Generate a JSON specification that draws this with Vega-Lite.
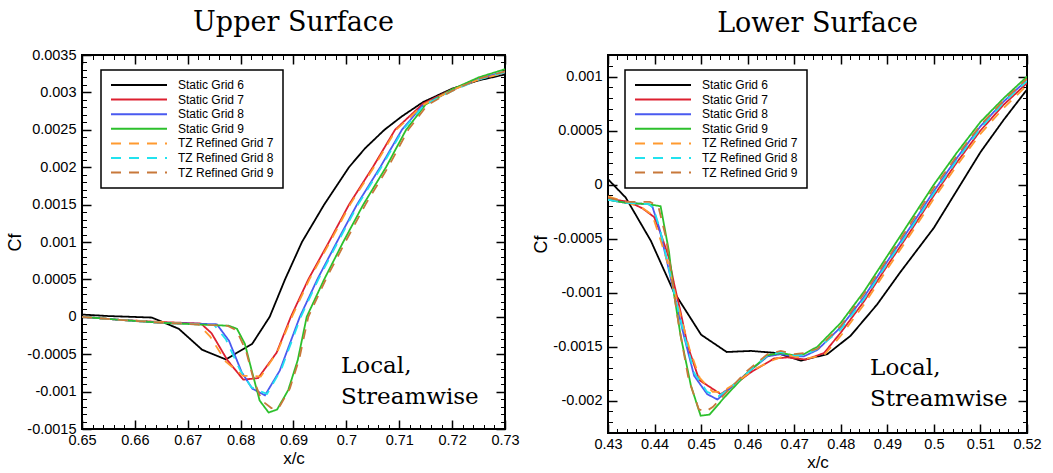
{
"$schema": "https://vega.github.io/schema/vega-lite/v6.json",
"background": "white",
"padding": {"left": 5, "top": 8, "right": 5, "bottom": 0},
"config": {
  "font": "Liberation Sans",
  "view": {"stroke": "black", "strokeWidth": 2},
  "axis": {"grid": false, "domain": false, "tickColor": "black", "labelColor": "black", "labelFontSize": 14.5, "labelFont": "Liberation Sans", "titleFont": "Liberation Sans", "titleFontWeight": "normal", "titleColor": "black", "labelOverlap": false, "labelFlush": false, "labelBound": false},
  "title": {"font": "DejaVu Serif", "fontSize": 27, "fontWeight": "normal", "color": "black", "anchor": "middle", "frame": "group"},
  "legend": {"symbolType": "stroke", "symbolSize": 3136, "symbolStrokeWidth": 2, "clipHeight": 12, "labelFontSize": 12, "labelFont": "Liberation Sans", "labelColor": "black", "labelOffset": 10, "rowPadding": 2.6, "padding": 9, "strokeColor": "black", "strokeWidth": 1.5, "fillColor": "white", "cornerRadius": 0, "labelLimit": 300}
},
"datasets": {
"upper": [
{"g":"Static Grid 6","x":0.65,"y":0.00003},{"g":"Static Grid 6","x":0.655,"y":0.00001},{"g":"Static Grid 6","x":0.6632,"y":-0.00001},{"g":"Static Grid 6","x":0.6683,"y":-0.00016},{"g":"Static Grid 6","x":0.6727,"y":-0.00044},{"g":"Static Grid 6","x":0.6772,"y":-0.00057},{"g":"Static Grid 6","x":0.6822,"y":-0.00036},{"g":"Static Grid 6","x":0.6855,"y":0.0},{"g":"Static Grid 6","x":0.6884,"y":0.0005},{"g":"Static Grid 6","x":0.6916,"y":0.001},{"g":"Static Grid 6","x":0.6958,"y":0.0015},{"g":"Static Grid 6","x":0.7005,"y":0.002},{"g":"Static Grid 6","x":0.7035,"y":0.00225},{"g":"Static Grid 6","x":0.7072,"y":0.0025},{"g":"Static Grid 6","x":0.7105,"y":0.00268},{"g":"Static Grid 6","x":0.7145,"y":0.00287},{"g":"Static Grid 6","x":0.72,"y":0.00305},{"g":"Static Grid 6","x":0.725,"y":0.00316},{"g":"Static Grid 6","x":0.73,"y":0.00324},
{"g":"Static Grid 7","x":0.65,"y":0},{"g":"Static Grid 7","x":0.657,"y":-0.00004},{"g":"Static Grid 7","x":0.665,"y":-0.00007},{"g":"Static Grid 7","x":0.6725,"y":-0.00009},{"g":"Static Grid 7","x":0.6745,"y":-0.00022},{"g":"Static Grid 7","x":0.6775,"y":-0.00058},{"g":"Static Grid 7","x":0.6805,"y":-0.00084},{"g":"Static Grid 7","x":0.6833,"y":-0.00082},{"g":"Static Grid 7","x":0.6868,"y":-0.00048},{"g":"Static Grid 7","x":0.6895,"y":0.0},{"g":"Static Grid 7","x":0.6928,"y":0.0005},{"g":"Static Grid 7","x":0.6967,"y":0.001},{"g":"Static Grid 7","x":0.7005,"y":0.0015},{"g":"Static Grid 7","x":0.705,"y":0.002},{"g":"Static Grid 7","x":0.7092,"y":0.0025},{"g":"Static Grid 7","x":0.7145,"y":0.00285},{"g":"Static Grid 7","x":0.72,"y":0.00304},{"g":"Static Grid 7","x":0.725,"y":0.00318},{"g":"Static Grid 7","x":0.73,"y":0.00327},
{"g":"Static Grid 8","x":0.65,"y":0},{"g":"Static Grid 8","x":0.657,"y":-0.00004},{"g":"Static Grid 8","x":0.665,"y":-0.00008},{"g":"Static Grid 8","x":0.6755,"y":-0.0001},{"g":"Static Grid 8","x":0.6778,"y":-0.00032},{"g":"Static Grid 8","x":0.6802,"y":-0.00074},{"g":"Static Grid 8","x":0.6822,"y":-0.00096},{"g":"Static Grid 8","x":0.6846,"y":-0.00105},{"g":"Static Grid 8","x":0.6874,"y":-0.00072},{"g":"Static Grid 8","x":0.6912,"y":0.0},{"g":"Static Grid 8","x":0.6945,"y":0.0005},{"g":"Static Grid 8","x":0.6982,"y":0.001},{"g":"Static Grid 8","x":0.702,"y":0.0015},{"g":"Static Grid 8","x":0.7064,"y":0.002},{"g":"Static Grid 8","x":0.7105,"y":0.0025},{"g":"Static Grid 8","x":0.7145,"y":0.00283},{"g":"Static Grid 8","x":0.72,"y":0.00303},{"g":"Static Grid 8","x":0.725,"y":0.00318},{"g":"Static Grid 8","x":0.73,"y":0.00328},
{"g":"Static Grid 9","x":0.65,"y":0},{"g":"Static Grid 9","x":0.657,"y":-0.00004},{"g":"Static Grid 9","x":0.665,"y":-0.00008},{"g":"Static Grid 9","x":0.6778,"y":-0.00012},{"g":"Static Grid 9","x":0.6793,"y":-0.00016},{"g":"Static Grid 9","x":0.6808,"y":-0.00036},{"g":"Static Grid 9","x":0.6821,"y":-0.00072},{"g":"Static Grid 9","x":0.6836,"y":-0.00112},{"g":"Static Grid 9","x":0.6853,"y":-0.00128},{"g":"Static Grid 9","x":0.6869,"y":-0.00124},{"g":"Static Grid 9","x":0.689,"y":-0.00098},{"g":"Static Grid 9","x":0.6908,"y":-0.00058},{"g":"Static Grid 9","x":0.6925,"y":0.0},{"g":"Static Grid 9","x":0.6958,"y":0.0005},{"g":"Static Grid 9","x":0.6994,"y":0.001},{"g":"Static Grid 9","x":0.7032,"y":0.0015},{"g":"Static Grid 9","x":0.7075,"y":0.002},{"g":"Static Grid 9","x":0.7113,"y":0.0025},{"g":"Static Grid 9","x":0.715,"y":0.00284},{"g":"Static Grid 9","x":0.72,"y":0.00304},{"g":"Static Grid 9","x":0.725,"y":0.0032},{"g":"Static Grid 9","x":0.73,"y":0.00331},
{"g":"TZ Refined Grid 7","x":0.65,"y":0},{"g":"TZ Refined Grid 7","x":0.657,"y":-0.00004},{"g":"TZ Refined Grid 7","x":0.665,"y":-0.00007},{"g":"TZ Refined Grid 7","x":0.672,"y":-0.0001},{"g":"TZ Refined Grid 7","x":0.6742,"y":-0.00026},{"g":"TZ Refined Grid 7","x":0.6772,"y":-0.0006},{"g":"TZ Refined Grid 7","x":0.6805,"y":-0.00079},{"g":"TZ Refined Grid 7","x":0.6822,"y":-0.00079},{"g":"TZ Refined Grid 7","x":0.6838,"y":-0.0008},{"g":"TZ Refined Grid 7","x":0.687,"y":-0.00046},{"g":"TZ Refined Grid 7","x":0.6897,"y":0.0},{"g":"TZ Refined Grid 7","x":0.693,"y":0.0005},{"g":"TZ Refined Grid 7","x":0.6969,"y":0.001},{"g":"TZ Refined Grid 7","x":0.7007,"y":0.0015},{"g":"TZ Refined Grid 7","x":0.7052,"y":0.002},{"g":"TZ Refined Grid 7","x":0.7094,"y":0.0025},{"g":"TZ Refined Grid 7","x":0.7147,"y":0.00284},{"g":"TZ Refined Grid 7","x":0.72,"y":0.00303},{"g":"TZ Refined Grid 7","x":0.725,"y":0.00317},{"g":"TZ Refined Grid 7","x":0.73,"y":0.00326},
{"g":"TZ Refined Grid 8","x":0.65,"y":0},{"g":"TZ Refined Grid 8","x":0.657,"y":-0.00004},{"g":"TZ Refined Grid 8","x":0.665,"y":-0.00008},{"g":"TZ Refined Grid 8","x":0.675,"y":-0.00011},{"g":"TZ Refined Grid 8","x":0.6772,"y":-0.0003},{"g":"TZ Refined Grid 8","x":0.6798,"y":-0.0007},{"g":"TZ Refined Grid 8","x":0.682,"y":-0.00094},{"g":"TZ Refined Grid 8","x":0.6835,"y":-0.00099},{"g":"TZ Refined Grid 8","x":0.685,"y":-0.00103},{"g":"TZ Refined Grid 8","x":0.6877,"y":-0.0007},{"g":"TZ Refined Grid 8","x":0.6914,"y":0.0},{"g":"TZ Refined Grid 8","x":0.6947,"y":0.0005},{"g":"TZ Refined Grid 8","x":0.6984,"y":0.001},{"g":"TZ Refined Grid 8","x":0.7022,"y":0.0015},{"g":"TZ Refined Grid 8","x":0.7066,"y":0.002},{"g":"TZ Refined Grid 8","x":0.7107,"y":0.0025},{"g":"TZ Refined Grid 8","x":0.7147,"y":0.00283},{"g":"TZ Refined Grid 8","x":0.72,"y":0.00302},{"g":"TZ Refined Grid 8","x":0.725,"y":0.00317},{"g":"TZ Refined Grid 8","x":0.73,"y":0.00327},
{"g":"TZ Refined Grid 9","x":0.65,"y":0},{"g":"TZ Refined Grid 9","x":0.657,"y":-0.00004},{"g":"TZ Refined Grid 9","x":0.665,"y":-0.00008},{"g":"TZ Refined Grid 9","x":0.6775,"y":-0.00012},{"g":"TZ Refined Grid 9","x":0.6792,"y":-0.00018},{"g":"TZ Refined Grid 9","x":0.681,"y":-0.00045},{"g":"TZ Refined Grid 9","x":0.6825,"y":-0.00085},{"g":"TZ Refined Grid 9","x":0.684,"y":-0.00112},{"g":"TZ Refined Grid 9","x":0.6858,"y":-0.00122},{"g":"TZ Refined Grid 9","x":0.6872,"y":-0.00122},{"g":"TZ Refined Grid 9","x":0.6893,"y":-0.00096},{"g":"TZ Refined Grid 9","x":0.6911,"y":-0.00056},{"g":"TZ Refined Grid 9","x":0.6928,"y":0.0},{"g":"TZ Refined Grid 9","x":0.6961,"y":0.0005},{"g":"TZ Refined Grid 9","x":0.6998,"y":0.001},{"g":"TZ Refined Grid 9","x":0.7036,"y":0.0015},{"g":"TZ Refined Grid 9","x":0.7079,"y":0.002},{"g":"TZ Refined Grid 9","x":0.7117,"y":0.0025},{"g":"TZ Refined Grid 9","x":0.7153,"y":0.00283},{"g":"TZ Refined Grid 9","x":0.72,"y":0.00302},{"g":"TZ Refined Grid 9","x":0.725,"y":0.00318},{"g":"TZ Refined Grid 9","x":0.73,"y":0.00328}
],
"lower": [
{"g":"Static Grid 6","x":0.43,"y":0.00005},{"g":"Static Grid 6","x":0.4338,"y":-0.00012},{"g":"Static Grid 6","x":0.4392,"y":-0.00052},{"g":"Static Grid 6","x":0.4441,"y":-0.00099},{"g":"Static Grid 6","x":0.45,"y":-0.00139},{"g":"Static Grid 6","x":0.4555,"y":-0.00155},{"g":"Static Grid 6","x":0.4607,"y":-0.00154},{"g":"Static Grid 6","x":0.4664,"y":-0.00156},{"g":"Static Grid 6","x":0.4714,"y":-0.00163},{"g":"Static Grid 6","x":0.4771,"y":-0.00157},{"g":"Static Grid 6","x":0.4821,"y":-0.0014},{"g":"Static Grid 6","x":0.4878,"y":-0.00111},{"g":"Static Grid 6","x":0.4928,"y":-0.00081},{"g":"Static Grid 6","x":0.5,"y":-0.0004},{"g":"Static Grid 6","x":0.505,"y":-0.00005},{"g":"Static Grid 6","x":0.51,"y":0.0003},{"g":"Static Grid 6","x":0.515,"y":0.0006},{"g":"Static Grid 6","x":0.52,"y":0.00088},
{"g":"Static Grid 7","x":0.43,"y":-0.00013},{"g":"Static Grid 7","x":0.4345,"y":-0.00016},{"g":"Static Grid 7","x":0.4374,"y":-0.00022},{"g":"Static Grid 7","x":0.4399,"y":-0.0003},{"g":"Static Grid 7","x":0.4413,"y":-0.00045},{"g":"Static Grid 7","x":0.4431,"y":-0.00068},{"g":"Static Grid 7","x":0.4441,"y":-0.0009},{"g":"Static Grid 7","x":0.4456,"y":-0.00118},{"g":"Static Grid 7","x":0.4471,"y":-0.00149},{"g":"Static Grid 7","x":0.4496,"y":-0.00181},{"g":"Static Grid 7","x":0.4542,"y":-0.00194},{"g":"Static Grid 7","x":0.4563,"y":-0.00188},{"g":"Static Grid 7","x":0.4606,"y":-0.00174},{"g":"Static Grid 7","x":0.4657,"y":-0.00161},{"g":"Static Grid 7","x":0.4686,"y":-0.0016},{"g":"Static Grid 7","x":0.4725,"y":-0.00162},{"g":"Static Grid 7","x":0.4764,"y":-0.00156},{"g":"Static Grid 7","x":0.48,"y":-0.00137},{"g":"Static Grid 7","x":0.485,"y":-0.00108},{"g":"Static Grid 7","x":0.49,"y":-0.00075},{"g":"Static Grid 7","x":0.495,"y":-0.00043},{"g":"Static Grid 7","x":0.5,"y":-0.0001},{"g":"Static Grid 7","x":0.505,"y":0.00021},{"g":"Static Grid 7","x":0.51,"y":0.0005},{"g":"Static Grid 7","x":0.515,"y":0.00074},{"g":"Static Grid 7","x":0.52,"y":0.00094},
{"g":"Static Grid 8","x":0.43,"y":-0.00014},{"g":"Static Grid 8","x":0.434,"y":-0.00017},{"g":"Static Grid 8","x":0.4385,"y":-0.00018},{"g":"Static Grid 8","x":0.4395,"y":-0.0002},{"g":"Static Grid 8","x":0.441,"y":-0.0004},{"g":"Static Grid 8","x":0.4425,"y":-0.00068},{"g":"Static Grid 8","x":0.4441,"y":-0.00099},{"g":"Static Grid 8","x":0.4463,"y":-0.0014},{"g":"Static Grid 8","x":0.4485,"y":-0.00177},{"g":"Static Grid 8","x":0.4513,"y":-0.00194},{"g":"Static Grid 8","x":0.4535,"y":-0.00199},{"g":"Static Grid 8","x":0.4556,"y":-0.00191},{"g":"Static Grid 8","x":0.46,"y":-0.00174},{"g":"Static Grid 8","x":0.4643,"y":-0.00159},{"g":"Static Grid 8","x":0.4671,"y":-0.00157},{"g":"Static Grid 8","x":0.47,"y":-0.00159},{"g":"Static Grid 8","x":0.4721,"y":-0.00159},{"g":"Static Grid 8","x":0.475,"y":-0.00153},{"g":"Static Grid 8","x":0.48,"y":-0.00132},{"g":"Static Grid 8","x":0.485,"y":-0.00104},{"g":"Static Grid 8","x":0.49,"y":-0.00071},{"g":"Static Grid 8","x":0.495,"y":-0.00039},{"g":"Static Grid 8","x":0.5,"y":-0.00006},{"g":"Static Grid 8","x":0.505,"y":0.00025},{"g":"Static Grid 8","x":0.51,"y":0.00054},{"g":"Static Grid 8","x":0.515,"y":0.00077},{"g":"Static Grid 8","x":0.52,"y":0.00097},
{"g":"Static Grid 9","x":0.43,"y":-0.00014},{"g":"Static Grid 9","x":0.434,"y":-0.00017},{"g":"Static Grid 9","x":0.4385,"y":-0.00018},{"g":"Static Grid 9","x":0.4413,"y":-0.0002},{"g":"Static Grid 9","x":0.4431,"y":-0.00062},{"g":"Static Grid 9","x":0.4441,"y":-0.00099},{"g":"Static Grid 9","x":0.4456,"y":-0.0014},{"g":"Static Grid 9","x":0.4478,"y":-0.00186},{"g":"Static Grid 9","x":0.4499,"y":-0.00214},{"g":"Static Grid 9","x":0.4518,"y":-0.00213},{"g":"Static Grid 9","x":0.455,"y":-0.00197},{"g":"Static Grid 9","x":0.46,"y":-0.00174},{"g":"Static Grid 9","x":0.4643,"y":-0.00158},{"g":"Static Grid 9","x":0.4671,"y":-0.00156},{"g":"Static Grid 9","x":0.47,"y":-0.00158},{"g":"Static Grid 9","x":0.4721,"y":-0.00157},{"g":"Static Grid 9","x":0.475,"y":-0.0015},{"g":"Static Grid 9","x":0.48,"y":-0.00128},{"g":"Static Grid 9","x":0.485,"y":-0.00099},{"g":"Static Grid 9","x":0.49,"y":-0.00066},{"g":"Static Grid 9","x":0.495,"y":-0.00033},{"g":"Static Grid 9","x":0.5,"y":0.0},{"g":"Static Grid 9","x":0.505,"y":0.0003},{"g":"Static Grid 9","x":0.51,"y":0.00058},{"g":"Static Grid 9","x":0.515,"y":0.0008},{"g":"Static Grid 9","x":0.52,"y":0.001},
{"g":"TZ Refined Grid 7","x":0.43,"y":-0.00011},{"g":"TZ Refined Grid 7","x":0.434,"y":-0.00016},{"g":"TZ Refined Grid 7","x":0.4375,"y":-0.00022},{"g":"TZ Refined Grid 7","x":0.4395,"y":-0.00028},{"g":"TZ Refined Grid 7","x":0.4412,"y":-0.0005},{"g":"TZ Refined Grid 7","x":0.443,"y":-0.00075},{"g":"TZ Refined Grid 7","x":0.4441,"y":-0.00095},{"g":"TZ Refined Grid 7","x":0.4458,"y":-0.00125},{"g":"TZ Refined Grid 7","x":0.4475,"y":-0.00152},{"g":"TZ Refined Grid 7","x":0.4497,"y":-0.00179},{"g":"TZ Refined Grid 7","x":0.4525,"y":-0.00192},{"g":"TZ Refined Grid 7","x":0.4545,"y":-0.00192},{"g":"TZ Refined Grid 7","x":0.457,"y":-0.00185},{"g":"TZ Refined Grid 7","x":0.461,"y":-0.00172},{"g":"TZ Refined Grid 7","x":0.4657,"y":-0.00162},{"g":"TZ Refined Grid 7","x":0.4686,"y":-0.00158},{"g":"TZ Refined Grid 7","x":0.4725,"y":-0.00161},{"g":"TZ Refined Grid 7","x":0.4764,"y":-0.00158},{"g":"TZ Refined Grid 7","x":0.48,"y":-0.0014},{"g":"TZ Refined Grid 7","x":0.485,"y":-0.00111},{"g":"TZ Refined Grid 7","x":0.49,"y":-0.00078},{"g":"TZ Refined Grid 7","x":0.495,"y":-0.00046},{"g":"TZ Refined Grid 7","x":0.5,"y":-0.00013},{"g":"TZ Refined Grid 7","x":0.505,"y":0.00018},{"g":"TZ Refined Grid 7","x":0.51,"y":0.00047},{"g":"TZ Refined Grid 7","x":0.515,"y":0.00071},{"g":"TZ Refined Grid 7","x":0.52,"y":0.00092},
{"g":"TZ Refined Grid 8","x":0.43,"y":-0.00014},{"g":"TZ Refined Grid 8","x":0.434,"y":-0.00017},{"g":"TZ Refined Grid 8","x":0.4388,"y":-0.00018},{"g":"TZ Refined Grid 8","x":0.4398,"y":-0.00022},{"g":"TZ Refined Grid 8","x":0.4412,"y":-0.00042},{"g":"TZ Refined Grid 8","x":0.4427,"y":-0.0007},{"g":"TZ Refined Grid 8","x":0.4442,"y":-0.001},{"g":"TZ Refined Grid 8","x":0.4464,"y":-0.0014},{"g":"TZ Refined Grid 8","x":0.4486,"y":-0.00175},{"g":"TZ Refined Grid 8","x":0.4513,"y":-0.00192},{"g":"TZ Refined Grid 8","x":0.4537,"y":-0.00196},{"g":"TZ Refined Grid 8","x":0.4558,"y":-0.0019},{"g":"TZ Refined Grid 8","x":0.46,"y":-0.00174},{"g":"TZ Refined Grid 8","x":0.4643,"y":-0.00158},{"g":"TZ Refined Grid 8","x":0.4671,"y":-0.00155},{"g":"TZ Refined Grid 8","x":0.47,"y":-0.00158},{"g":"TZ Refined Grid 8","x":0.4721,"y":-0.00158},{"g":"TZ Refined Grid 8","x":0.475,"y":-0.00152},{"g":"TZ Refined Grid 8","x":0.48,"y":-0.00134},{"g":"TZ Refined Grid 8","x":0.485,"y":-0.00106},{"g":"TZ Refined Grid 8","x":0.49,"y":-0.00073},{"g":"TZ Refined Grid 8","x":0.495,"y":-0.00041},{"g":"TZ Refined Grid 8","x":0.5,"y":-0.00008},{"g":"TZ Refined Grid 8","x":0.505,"y":0.00023},{"g":"TZ Refined Grid 8","x":0.51,"y":0.00052},{"g":"TZ Refined Grid 8","x":0.515,"y":0.00076},{"g":"TZ Refined Grid 8","x":0.52,"y":0.00096},
{"g":"TZ Refined Grid 9","x":0.43,"y":-0.00012},{"g":"TZ Refined Grid 9","x":0.434,"y":-0.00016},{"g":"TZ Refined Grid 9","x":0.439,"y":-0.00016},{"g":"TZ Refined Grid 9","x":0.4408,"y":-0.0002},{"g":"TZ Refined Grid 9","x":0.4425,"y":-0.0005},{"g":"TZ Refined Grid 9","x":0.4438,"y":-0.0009},{"g":"TZ Refined Grid 9","x":0.4452,"y":-0.0013},{"g":"TZ Refined Grid 9","x":0.4473,"y":-0.0018},{"g":"TZ Refined Grid 9","x":0.4495,"y":-0.00208},{"g":"TZ Refined Grid 9","x":0.451,"y":-0.0021},{"g":"TZ Refined Grid 9","x":0.4525,"y":-0.00206},{"g":"TZ Refined Grid 9","x":0.4555,"y":-0.00192},{"g":"TZ Refined Grid 9","x":0.46,"y":-0.00172},{"g":"TZ Refined Grid 9","x":0.4643,"y":-0.00157},{"g":"TZ Refined Grid 9","x":0.4671,"y":-0.00154},{"g":"TZ Refined Grid 9","x":0.47,"y":-0.00157},{"g":"TZ Refined Grid 9","x":0.4721,"y":-0.00156},{"g":"TZ Refined Grid 9","x":0.475,"y":-0.00152},{"g":"TZ Refined Grid 9","x":0.48,"y":-0.00131},{"g":"TZ Refined Grid 9","x":0.485,"y":-0.00101},{"g":"TZ Refined Grid 9","x":0.49,"y":-0.00069},{"g":"TZ Refined Grid 9","x":0.495,"y":-0.00036},{"g":"TZ Refined Grid 9","x":0.5,"y":-0.00003},{"g":"TZ Refined Grid 9","x":0.505,"y":0.00027},{"g":"TZ Refined Grid 9","x":0.51,"y":0.00055},{"g":"TZ Refined Grid 9","x":0.515,"y":0.00078},{"g":"TZ Refined Grid 9","x":0.52,"y":0.00098}
]
},
"spacing": 10,
"resolve": {"scale": {"color": "independent", "strokeDash": "independent"}},
"hconcat": [
{
  "width": 423, "height": 374,
  "title": {"text": "Upper Surface", "offset": 10},
  "resolve": {"axis": {"x": "independent", "y": "independent"}},
  "layer": [
    {
      "data": {"name": "upper"},
      "mark": {"type": "line", "strokeWidth": 1.8, "clip": true},
      "encoding": {
        "x": {"field": "x", "type": "quantitative", "scale": {"domain": [0.65, 0.73], "nice": false, "zero": false},
          "axis": {"orient": "bottom", "title": "x/c", "titleFontSize": 17, "titlePadding": -1, "labelPadding": 13,
            "values": [0.65,0.652,0.654,0.656,0.658,0.66,0.662,0.664,0.666,0.668,0.67,0.672,0.674,0.676,0.678,0.68,0.682,0.684,0.686,0.688,0.69,0.692,0.694,0.696,0.698,0.7,0.702,0.704,0.706,0.708,0.71,0.712,0.714,0.716,0.718,0.72,0.722,0.724,0.726,0.728,0.73],
            "labelExpr": "abs(datum.value*100 - round(datum.value*100)) < 0.001 ? '' + datum.value : ''",
            "tickSize": {"condition": {"test": "abs(datum.value*100 - round(datum.value*100)) < 0.001", "value": -9}, "value": -4.5},
            "tickWidth": {"condition": {"test": "abs(datum.value*100 - round(datum.value*100)) < 0.001", "value": 1.5}, "value": 1}}},
        "y": {"field": "y", "type": "quantitative", "scale": {"domain": [-0.0015, 0.0035], "nice": false, "zero": false},
          "axis": {"orient": "left", "title": "Cf", "titleFontSize": 18, "titlePadding": 2, "labelPadding": 15,
            "values": [-0.0015,-0.0014,-0.0013,-0.0012,-0.0011,-0.001,-0.0009,-0.0008,-0.0007,-0.0006,-0.0005,-0.0004,-0.0003,-0.0002,-0.0001,0,0.0001,0.0002,0.0003,0.0004,0.0005,0.0006,0.0007,0.0008,0.0009,0.001,0.0011,0.0012,0.0013,0.0014,0.0015,0.0016,0.0017,0.0018,0.0019,0.002,0.0021,0.0022,0.0023,0.0024,0.0025,0.0026,0.0027,0.0028,0.0029,0.003,0.0031,0.0032,0.0033,0.0034,0.0035],
            "labelExpr": "abs(datum.value*2000 - round(datum.value*2000)) < 0.001 ? '' + datum.value : ''",
            "tickSize": {"condition": {"test": "abs(datum.value*2000 - round(datum.value*2000)) < 0.001", "value": -9}, "value": -4.5},
            "tickWidth": {"condition": {"test": "abs(datum.value*2000 - round(datum.value*2000)) < 0.001", "value": 1.5}, "value": 1}}},
        "color": {"field": "g", "type": "nominal",
          "scale": {"domain": ["Static Grid 6","Static Grid 7","Static Grid 8","Static Grid 9","TZ Refined Grid 7","TZ Refined Grid 8","TZ Refined Grid 9"], "range": ["#000000","#dd2030","#4a5af0","#2cc02c","#ff9a30","#22e2ee","#c8783a"]},
          "legend": {"title": null, "orient": "none", "legendX": 19, "legendY": 15}},
        "strokeDash": {"field": "g", "type": "nominal",
          "scale": {"domain": ["Static Grid 6","Static Grid 7","Static Grid 8","Static Grid 9","TZ Refined Grid 7","TZ Refined Grid 8","TZ Refined Grid 9"], "range": [[1,0],[1,0],[1,0],[1,0],[10,8],[10,8],[10,8]]},
          "legend": {"title": null, "orient": "none", "legendX": 19, "legendY": 15}}
      }
    },
    {
      "data": {"values": [{}]},
      "mark": {"type": "text", "font": "DejaVu Serif", "fontSize": 23, "align": "left", "baseline": "alphabetic", "lineHeight": 31, "color": "black"},
      "encoding": {
        "x": {"datum": 0.699, "type": "quantitative",
          "axis": {"orient": "top", "title": null, "labels": false,
            "values": [0.65,0.652,0.654,0.656,0.658,0.66,0.662,0.664,0.666,0.668,0.67,0.672,0.674,0.676,0.678,0.68,0.682,0.684,0.686,0.688,0.69,0.692,0.694,0.696,0.698,0.7,0.702,0.704,0.706,0.708,0.71,0.712,0.714,0.716,0.718,0.72,0.722,0.724,0.726,0.728,0.73],
            "tickSize": {"condition": {"test": "abs(datum.value*100 - round(datum.value*100)) < 0.001", "value": -9}, "value": -4.5},
            "tickWidth": {"condition": {"test": "abs(datum.value*100 - round(datum.value*100)) < 0.001", "value": 1.5}, "value": 1}}},
        "y": {"datum": -0.000749, "type": "quantitative",
          "axis": {"orient": "right", "title": null, "labels": false,
            "values": [-0.0015,-0.0014,-0.0013,-0.0012,-0.0011,-0.001,-0.0009,-0.0008,-0.0007,-0.0006,-0.0005,-0.0004,-0.0003,-0.0002,-0.0001,0,0.0001,0.0002,0.0003,0.0004,0.0005,0.0006,0.0007,0.0008,0.0009,0.001,0.0011,0.0012,0.0013,0.0014,0.0015,0.0016,0.0017,0.0018,0.0019,0.002,0.0021,0.0022,0.0023,0.0024,0.0025,0.0026,0.0027,0.0028,0.0029,0.003,0.0031,0.0032,0.0033,0.0034,0.0035],
            "tickSize": {"condition": {"test": "abs(datum.value*2000 - round(datum.value*2000)) < 0.001", "value": -9}, "value": -4.5},
            "tickWidth": {"condition": {"test": "abs(datum.value*2000 - round(datum.value*2000)) < 0.001", "value": 1.5}, "value": 1}}},
        "text": {"value": ["Local,", "Streamwise"]}
      }
    }
  ]
},
{
  "width": 419, "height": 378,
  "title": {"text": "Lower Surface", "offset": 9},
  "resolve": {"axis": {"x": "independent", "y": "independent"}},
  "layer": [
    {
      "data": {"name": "lower"},
      "mark": {"type": "line", "strokeWidth": 1.8, "clip": true},
      "encoding": {
        "x": {"field": "x", "type": "quantitative", "scale": {"domain": [0.43, 0.52], "nice": false, "zero": false},
          "axis": {"orient": "bottom", "title": "x/c", "titleFontSize": 17, "titlePadding": -1, "labelPadding": 13,
            "values": [0.43,0.432,0.434,0.436,0.438,0.44,0.442,0.444,0.446,0.448,0.45,0.452,0.454,0.456,0.458,0.46,0.462,0.464,0.466,0.468,0.47,0.472,0.474,0.476,0.478,0.48,0.482,0.484,0.486,0.488,0.49,0.492,0.494,0.496,0.498,0.5,0.502,0.504,0.506,0.508,0.51,0.512,0.514,0.516,0.518,0.52],
            "labelExpr": "abs(datum.value*100 - round(datum.value*100)) < 0.001 ? '' + datum.value : ''",
            "tickSize": {"condition": {"test": "abs(datum.value*100 - round(datum.value*100)) < 0.001", "value": -9}, "value": -4.5},
            "tickWidth": {"condition": {"test": "abs(datum.value*100 - round(datum.value*100)) < 0.001", "value": 1.5}, "value": 1}}},
        "y": {"field": "y", "type": "quantitative", "scale": {"domain": [-0.0023, 0.0012], "nice": false, "zero": false},
          "axis": {"orient": "left", "title": "Cf", "titleFontSize": 18, "titlePadding": 2, "labelPadding": 15,
            "values": [-0.0023,-0.0022,-0.0021,-0.002,-0.0019,-0.0018,-0.0017,-0.0016,-0.0015,-0.0014,-0.0013,-0.0012,-0.0011,-0.001,-0.0009,-0.0008,-0.0007,-0.0006,-0.0005,-0.0004,-0.0003,-0.0002,-0.0001,0,0.0001,0.0002,0.0003,0.0004,0.0005,0.0006,0.0007,0.0008,0.0009,0.001,0.0011,0.0012],
            "labelExpr": "abs(datum.value*2000 - round(datum.value*2000)) < 0.001 ? '' + datum.value : ''",
            "tickSize": {"condition": {"test": "abs(datum.value*2000 - round(datum.value*2000)) < 0.001", "value": -9}, "value": -4.5},
            "tickWidth": {"condition": {"test": "abs(datum.value*2000 - round(datum.value*2000)) < 0.001", "value": 1.5}, "value": 1}}},
        "color": {"field": "g", "type": "nominal",
          "scale": {"domain": ["Static Grid 6","Static Grid 7","Static Grid 8","Static Grid 9","TZ Refined Grid 7","TZ Refined Grid 8","TZ Refined Grid 9"], "range": ["#000000","#dd2030","#4a5af0","#2cc02c","#ff9a30","#22e2ee","#c8783a"]},
          "legend": {"title": null, "orient": "none", "legendX": 17, "legendY": 15}},
        "strokeDash": {"field": "g", "type": "nominal",
          "scale": {"domain": ["Static Grid 6","Static Grid 7","Static Grid 8","Static Grid 9","TZ Refined Grid 7","TZ Refined Grid 8","TZ Refined Grid 9"], "range": [[1,0],[1,0],[1,0],[1,0],[10,8],[10,8],[10,8]]},
          "legend": {"title": null, "orient": "none", "legendX": 17, "legendY": 15}}
      }
    },
    {
      "data": {"values": [{}]},
      "mark": {"type": "text", "font": "DejaVu Serif", "fontSize": 23, "align": "left", "baseline": "alphabetic", "lineHeight": 31, "color": "black"},
      "encoding": {
        "x": {"datum": 0.4863, "type": "quantitative",
          "axis": {"orient": "top", "title": null, "labels": false,
            "values": [0.43,0.432,0.434,0.436,0.438,0.44,0.442,0.444,0.446,0.448,0.45,0.452,0.454,0.456,0.458,0.46,0.462,0.464,0.466,0.468,0.47,0.472,0.474,0.476,0.478,0.48,0.482,0.484,0.486,0.488,0.49,0.492,0.494,0.496,0.498,0.5,0.502,0.504,0.506,0.508,0.51,0.512,0.514,0.516,0.518,0.52],
            "tickSize": {"condition": {"test": "abs(datum.value*100 - round(datum.value*100)) < 0.001", "value": -9}, "value": -4.5},
            "tickWidth": {"condition": {"test": "abs(datum.value*100 - round(datum.value*100)) < 0.001", "value": 1.5}, "value": 1}}},
        "y": {"datum": -0.00176, "type": "quantitative",
          "axis": {"orient": "right", "title": null, "labels": false,
            "values": [-0.0023,-0.0022,-0.0021,-0.002,-0.0019,-0.0018,-0.0017,-0.0016,-0.0015,-0.0014,-0.0013,-0.0012,-0.0011,-0.001,-0.0009,-0.0008,-0.0007,-0.0006,-0.0005,-0.0004,-0.0003,-0.0002,-0.0001,0,0.0001,0.0002,0.0003,0.0004,0.0005,0.0006,0.0007,0.0008,0.0009,0.001,0.0011,0.0012],
            "tickSize": {"condition": {"test": "abs(datum.value*2000 - round(datum.value*2000)) < 0.001", "value": -9}, "value": -4.5},
            "tickWidth": {"condition": {"test": "abs(datum.value*2000 - round(datum.value*2000)) < 0.001", "value": 1.5}, "value": 1}}},
        "text": {"value": ["Local,", "Streamwise"]}
      }
    }
  ]
}
]
}
